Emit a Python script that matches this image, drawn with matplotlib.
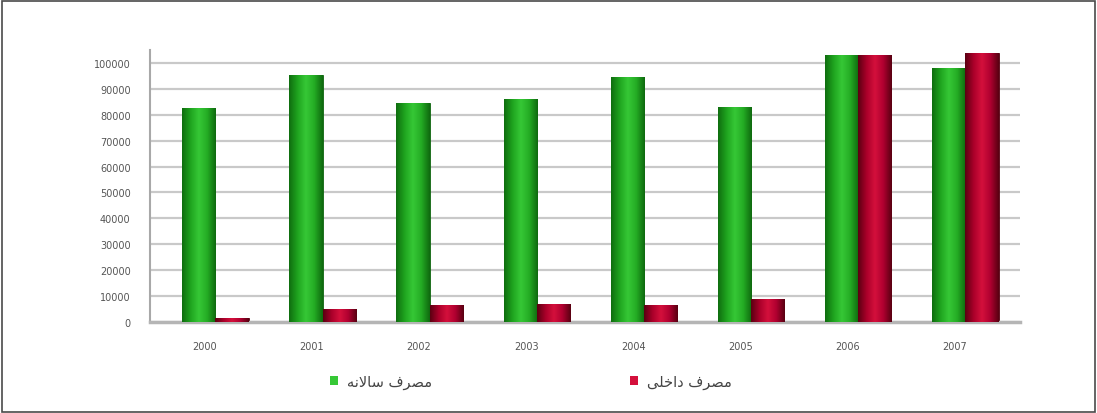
import matplotlib
matplotlib.use("Agg")
import matplotlib.pyplot as plt
import numpy as np
from matplotlib.colors import LinearSegmentedColormap
from matplotlib.patches import Rectangle

# Data
years = ["2000", "2001", "2002", "2003", "2004", "2005", "2006", "2007"]
series_green = [82500, 95500, 84500, 86000, 94500, 83000, 103000, 98000]
series_red = [1500, 5000, 6500, 7000, 6500, 9000, 103000, 104000]
label_green = "مصرف سالانه"
label_red = "مصرف داخلی"
y_ticks = list(range(0, 100001, 10000))

# Arabic-script contextual forms (isolated, final, initial, medial)
FORMS = {
    "م": ("\uFEE1", "\uFEE2", "\uFEE3", "\uFEE4"),
    "ص": ("\uFEB9", "\uFEBA", "\uFEBB", "\uFEBC"),
    "ر": ("\uFEAD", "\uFEAE"),
    "ف": ("\uFED1", "\uFED2", "\uFED3", "\uFED4"),
    "س": ("\uFEB1", "\uFEB2", "\uFEB3", "\uFEB4"),
    "ا": ("\uFE8D", "\uFE8E"),
    "ل": ("\uFEDD", "\uFEDE", "\uFEDF", "\uFEE0"),
    "لا": ("\uFEFB", "\uFEFC"),
    "ن": ("\uFEE5", "\uFEE6", "\uFEE7", "\uFEE8"),
    "ه": ("\uFEE9", "\uFEEA", "\uFEEB", "\uFEEC"),
    "د": ("\uFEA9", "\uFEAA"),
    "خ": ("\uFEA5", "\uFEA6", "\uFEA7", "\uFEA8"),
    "ی": ("\uFEEF", "\uFEF0", "\uFEF3", "\uFEF4"),
}
RIGHT_ONLY = {"ا", "د", "ر", "لا"}


def shape(text):
    """Join Persian letters and put them in visual (left-to-right) order."""
    tokens, i = [], 0
    while i < len(text):
        if text[i:i + 2] == "لا":
            tokens.append("لا")
            i += 2
        else:
            tokens.append(text[i])
            i += 1
    out = []
    for k, t in enumerate(tokens):
        if t not in FORMS:
            out.append(t)
            continue
        prev = tokens[k - 1] if k > 0 else None
        nxt = tokens[k + 1] if k + 1 < len(tokens) else None
        jp = prev in FORMS and prev not in RIGHT_ONLY
        jn = nxt in FORMS and t not in RIGHT_ONLY
        idx = {(False, False): 0, (True, False): 1, (False, True): 2, (True, True): 3}[(jp, jn)]
        out.append(FORMS[t][idx])
    return "".join(reversed(out))


plt.rcParams["font.family"] = ["DejaVu Sans"]

fig = plt.figure(figsize=(10.97, 4.14), dpi=100)
ax = fig.add_axes([150 / 1097, 1 - 323 / 414, 870 / 1097, 272 / 414])

x = np.arange(len(years))
width = 0.31

green_cmap = LinearSegmentedColormap.from_list(
    "g", ["#0f6e0f", "#1fa41f", "#36c836", "#24ac24", "#0f6a0f"])
red_cmap = LinearSegmentedColormap.from_list(
    "r", ["#5c0012", "#aa002a", "#d4103c", "#b00030", "#5a0012"])
grad = np.linspace(0, 1, 64).reshape(1, -1)

# Background grid
ax.set_axisbelow(True)
ax.yaxis.grid(True, color="#c9c9c9", linewidth=1.6)

for vals, offset, cmap, edge, label in [
    (series_green, -width / 2, green_cmap, "#0c5e0c", label_green),
    (series_red, width / 2, red_cmap, "#4e0010", label_red),
]:
    bars = ax.bar(x + offset, vals, width=width, color=cmap(0.5),
                  edgecolor=edge, linewidth=0.6, label=shape(label), zorder=2)
    # Cylinder-like horizontal shading on each bar
    for b in bars:
        im = ax.imshow(grad, cmap=cmap, aspect="auto", zorder=3,
                       extent=(b.get_x(), b.get_x() + b.get_width(), 0, b.get_height()))
        im.set_clip_path(b)

ax.set_xlim(-0.61, 7.51)
ax.set_ylim(0, 105000)
ax.set_yticks(y_ticks)
ax.set_yticklabels([str(v) for v in y_ticks], fontsize=7, color="#555555")
ax.set_xticks(x - 0.1)
ax.set_xticklabels(years, fontsize=7, color="#555555")
ax.tick_params(axis="both", length=0, pad=14)

for side in ["top", "right"]:
    ax.spines[side].set_visible(False)
ax.spines["left"].set_color("#a8a8a8")
ax.spines["left"].set_linewidth(1.5)
ax.spines["bottom"].set_color("#b5b5b5")
ax.spines["bottom"].set_linewidth(2.5)

leg = fig.legend(loc="center", bbox_to_anchor=(531 / 1097, 1 - 382 / 414), ncol=2,
                 frameon=False, fontsize=10.5, handlelength=0.55, handleheight=0.55,
                 columnspacing=13.6, handletextpad=0.6)
for h in leg.legend_handles:
    h.set_edgecolor("none")
for t in leg.get_texts():
    t.set_color("#444444")

# Outer frame
fig.patches.append(Rectangle((0.002, 0.003), 0.996, 0.993, transform=fig.transFigure,
                             fill=False, edgecolor="#4a4a4a", linewidth=1.2))

fig.savefig("out.png", dpi=100)
